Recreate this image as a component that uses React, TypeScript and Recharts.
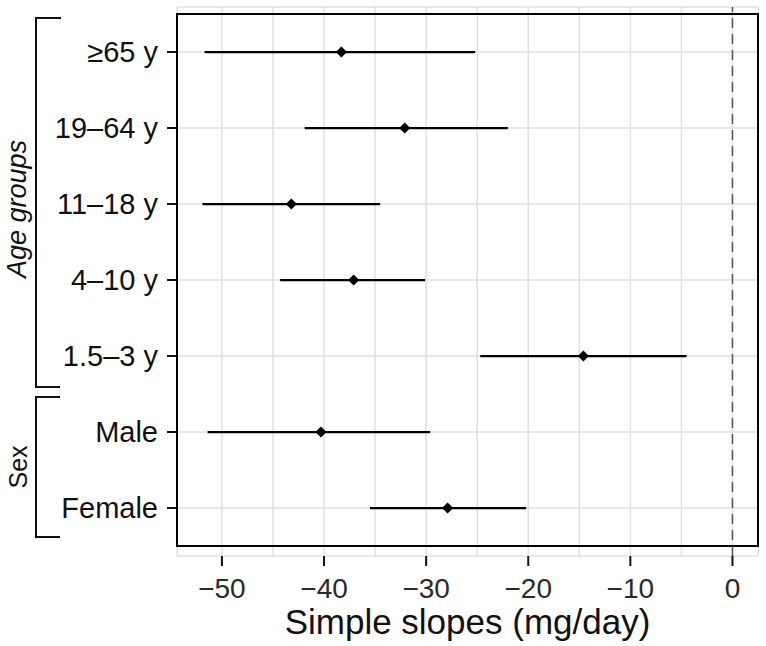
import { ComposedChart, Bar, Scatter, XAxis, YAxis, CartesianGrid, ReferenceLine, ReferenceArea } from 'recharts';

const groups = ['≥65 y', '19–64 y', '11–18 y', '4–10 y', '1.5–3 y', 'Male', 'Female'];
const estimates = [-38.3, -32.1, -43.2, -37.1, -14.6, -40.3, -27.9];
const lower = [-51.7, -41.9, -51.9, -44.3, -24.7, -51.4, -35.5];
const upper = [-25.2, -22.0, -34.5, -30.1, -4.5, -29.6, -20.2];
const majorTicks = [-50, -40, -30, -20, -10, 0];
const gridTicks = [-50, -45, -40, -35, -30, -25, -20, -15, -10, -5, 0];

const X_DOMAIN: [number, number] = [-54.4, 2.5];
const FONT = '"Liberation Sans", Arial, sans-serif';

const rows = groups.map((group, i) => ({
  group,
  est: estimates[i],
  ci: [lower[i], upper[i]],
}));

const Diamond = (props: any) => {
  const { cx, cy } = props;
  const r = 5.6;
  return (
    <polygon
      points={`${cx},${cy - r} ${cx + r},${cy} ${cx},${cy + r} ${cx - r},${cy}`}
      fill="#000"
    />
  );
};

const fmt = (v: number) => (v < 0 ? `\u2212${Math.abs(v)}` : `${v}`);

export default function App() {
  return (
    <div style={{ position: 'absolute', left: 0, top: 0, width: 766, height: 646, background: '#fff', fontFamily: FONT }}>
      <ComposedChart
        width={766}
        height={646}
        data={rows}
        layout="vertical"
        margin={{ top: 7, right: 8, bottom: 0, left: 0 }}
      >
        <CartesianGrid xAxisId="grid" stroke="#e0e0e0" strokeWidth={1.5} />
        <XAxis
          xAxisId="grid"
          type="number"
          domain={X_DOMAIN}
          ticks={gridTicks}
          interval={0}
          allowDataOverflow
          hide
        />
        <XAxis
          type="number"
          domain={X_DOMAIN}
          ticks={majorTicks}
          interval={0}
          allowDataOverflow
          height={90}
          tickSize={10}
          tickMargin={12}
          tickFormatter={fmt}
          tick={{ fontSize: 28, fill: '#2a2a2a', fontFamily: FONT }}
          tickLine={{ stroke: '#111', strokeWidth: 2 }}
          axisLine={false}
          label={{ value: 'Simple slopes (mg/day)', position: 'insideBottom', offset: 12, fontSize: 35, fill: '#111', fontFamily: FONT }}
        />
        <YAxis
          type="category"
          dataKey="group"
          width={177}
          padding={{ top: 7, bottom: 10 }}
          tickSize={10}
          tickMargin={9}
          interval={0}
          tick={{ fontSize: 29, fill: '#111', fontFamily: FONT }}
          tickLine={{ stroke: '#111', strokeWidth: 2 }}
          axisLine={false}
        />
        <ReferenceLine x={0} stroke="#555" strokeWidth={1.5} strokeDasharray="10 6" />
        <Bar dataKey="ci" barSize={2.2} fill="#000" isAnimationActive={false} />
        <Scatter dataKey="est" shape={Diamond} isAnimationActive={false} />
        <ReferenceArea x1={X_DOMAIN[0]} x2={X_DOMAIN[1]} fill="none" stroke="#000" strokeWidth={2} ifOverflow="visible" />
      </ComposedChart>
      <svg
        width={766}
        height={646}
        style={{ position: 'absolute', left: 0, top: 0, pointerEvents: 'none' }}
      >
        <g stroke="#111" strokeWidth={2} fill="none">
          <polyline points="61,18 36,18 36,387 60,387" />
          <polyline points="60,397 36,397 36,537 60,537" />
        </g>
        <text
          transform="translate(26,209) rotate(-90)"
          textAnchor="middle"
          fontSize={27}
          fontStyle="italic"
          fill="#111"
          fontFamily={FONT}
        >
          Age groups
        </text>
        <text
          transform="translate(27,467) rotate(-90)"
          textAnchor="middle"
          fontSize={25}
          fill="#111"
          fontFamily={FONT}
        >
          Sex
        </text>
      </svg>
    </div>
  );
}
